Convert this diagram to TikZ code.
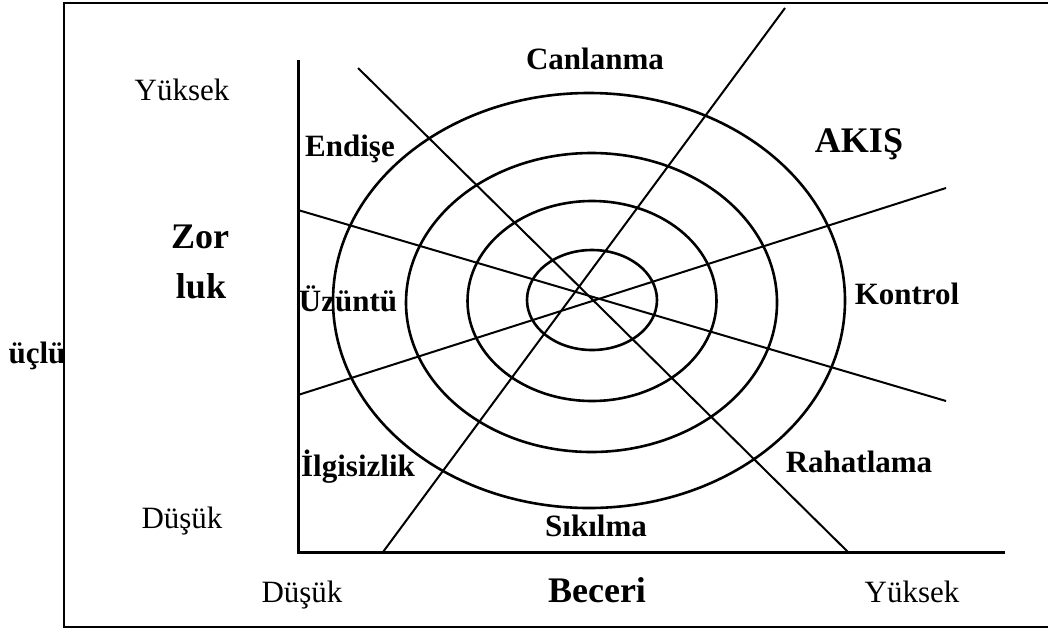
\documentclass[tikz,border=0pt]{standalone}
\usepackage{fontspec}
\setmainfont{Liberation Serif}
\begin{document}
\begin{tikzpicture}[x=1pt,y=-1pt,
  lab/.style={anchor=base,inner sep=0pt,font=\fontsize{31}{31}\selectfont},
  blab/.style={anchor=base,inner sep=0pt,font=\fontsize{31}{31}\selectfont\bfseries},
  big/.style={anchor=base,inner sep=0pt,font=\fontsize{36}{36}\selectfont\bfseries},
  axis/.style={line width=3pt},
  ring/.style={line width=2.6pt},
  ray/.style={line width=2pt},
  frame/.style={line width=2.4pt}]
\useasboundingbox (0,0) rectangle (1048,630);
% frame
\coordinate (F1) at (1060,3);
\coordinate (F2) at (64,3);
\coordinate (F3) at (64,627);
\coordinate (F4) at (1060,627);
\draw[frame] (F1) -- (F2) -- (F3) -- (F4);
% axes
\coordinate (O) at (298,552);
\coordinate (Ytop) at (298,60);
\coordinate (Xend) at (1005,552);
\draw[axis] (Ytop) -- (O) -- (Xend);
% ellipses
\coordinate (E1) at (589,300.5);
\coordinate (E2) at (591.5,302.5);
\coordinate (E3) at (592,301);
\coordinate (E4) at (592,300);
\draw[ring] (E1) ellipse [x radius=256pt, y radius=207.5pt];
\draw[ring] (E2) ellipse [x radius=185.5pt, y radius=149.5pt];
\draw[ring] (E3) ellipse [x radius=124.5pt, y radius=100pt];
\draw[ring] (E4) ellipse [x radius=65pt, y radius=50pt];
% rays
\coordinate (A1) at (358,68);  \coordinate (A2) at (848,552);
\coordinate (B1) at (383,552); \coordinate (B2) at (785,8);
\coordinate (C1) at (298,210); \coordinate (C2) at (946,401);
\coordinate (D1) at (298,395); \coordinate (D2) at (946,188);
\draw[ray] (A1) -- (A2);
\draw[ray] (B1) -- (B2);
\draw[ray] (C1) -- (C2);
\draw[ray] (D1) -- (D2);
% labels
\node[lab] (yk1) at (182,100) {Yüksek};
\node[lab] (dk1) at (182,528) {Düşük};
\node[lab] (dk2) at (302,602) {Düşük};
\node[lab] (yk2) at (912,602) {Yüksek};
\node[big] (bec) at (597,602) {Beceri};
\node[blab] (can) at (595,69) {Canlanma};
\node[big] (aki) at (859,152) {AKIŞ};
\node[blab] (end) at (350,156) {Endişe};
\node[blab] (uzu) at (348,311) {Üzüntü};
\node[blab] (kon) at (907,304) {Kontrol};
\node[blab] (ilg) at (358,476) {İlgisizlik};
\node[blab] (rah) at (859,472) {Rahatlama};
\node[blab] (sik) at (596,536) {Sıkılma};
\node[big] (zor) at (200,248) {Zor};
\node[big] (luk) at (201,298) {luk};
\node[blab] (ucl) at (37,363) {üçlü};
\end{tikzpicture}
\end{document}
